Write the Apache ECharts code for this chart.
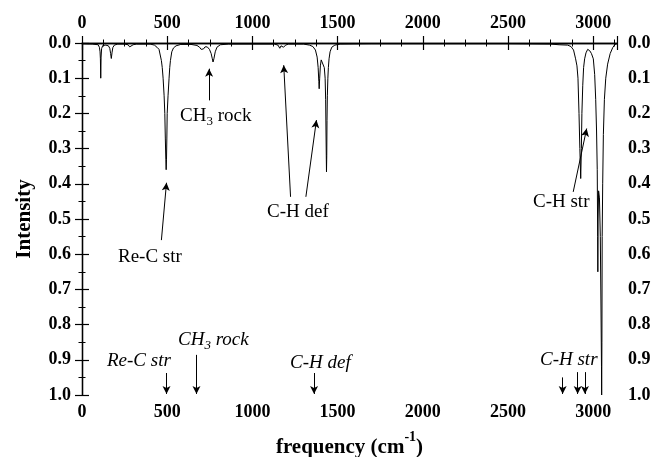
<!DOCTYPE html>
<html><head><meta charset="utf-8">
<script src="https://cdn.jsdelivr.net/npm/echarts@6/dist/echarts.min.js"></script>
<style>html,body{margin:0;padding:0;background:#fff}#c{width:653px;height:457px}</style>
</head><body><div id="c"></div>
<script>
// Simulated spectrum (frequency in cm-1, intensity)
const specFreq = [0,60,95,102,106,108,110,112,115,122,140,155,163,168,172,176,181,190,210,250,270,280,285,290,300,320,400,425,440,452,460,466,471,476,482,486,489,492,494,496,498,500,505,511,515,519,527,537,552,580,640,675,690,699,706,713,722,735,748,758,765,769,774,782,792,812,860,1000,1130,1150,1161,1168,1175,1183,1188,1195,1212,1300,1335,1355,1370,1380,1386,1390,1392,1395,1399,1404,1409,1415,1422,1427,1430,1432,1434,1435,1436.5,1438,1440,1443,1446,1450,1456,1466,1484,1515,1700,2000,2500,2750,2800,2850,2870,2885,2897,2905,2911,2917,2922,2927,2931,2934,2939,2944,2950,2958,2968,2980,2990,3001,3009,3015,3020,3024,3026.5,3027.5,3029,3032,3037,3042,3046,3049,3050,3051.5,3053,3056,3060,3066,3074,3085,3100,3115,3128,3140];
const specInt = [0.002,0.003,0.005,0.012,0.025,0.045,0.10,0.04,0.016,0.007,0.006,0.008,0.015,0.03,0.044,0.028,0.013,0.006,0.003,0.003,0.005,0.011,0.016,0.011,0.005,0.003,0.003,0.006,0.012,0.018,0.022,0.05,0.07,0.1,0.15,0.2,0.27,0.33,0.36,0.33,0.27,0.2,0.15,0.1,0.07,0.05,0.025,0.014,0.008,0.004,0.004,0.007,0.012,0.018,0.021,0.017,0.011,0.011,0.018,0.03,0.045,0.054,0.045,0.025,0.012,0.005,0.003,0.003,0.003,0.006,0.015,0.008,0.007,0.012,0.015,0.006,0.003,0.003,0.006,0.01,0.02,0.04,0.07,0.11,0.13,0.1,0.065,0.048,0.045,0.052,0.07,0.1,0.16,0.25,0.33,0.366,0.32,0.22,0.15,0.1,0.07,0.045,0.025,0.012,0.006,0.003,0.002,0.002,0.002,0.003,0.005,0.006,0.01,0.02,0.045,0.065,0.1,0.2,0.3,0.385,0.3,0.2,0.12,0.07,0.045,0.028,0.018,0.022,0.03,0.045,0.09,0.16,0.25,0.36,0.55,0.65,0.5,0.42,0.44,0.55,0.75,0.92,1.0,0.85,0.55,0.4,0.26,0.16,0.1,0.06,0.03,0.013,0.004,0.002];

// Experimental band positions (arrows on the bottom axis)
const stickFreq = [496, 672, 1362, 2821, 2909, 2952];
const stickTop  = [0.9375, 0.886, 0.9375, 0.95, 0.935, 0.935];

// Annotation arrows: [fromFreq, fromInt, toFreq, toInt]
const arrowFrom = [[746,0.163],[466,0.56],[1224,0.437],[1314,0.437],[2883,0.423]];
const arrowTo   = [[746,0.073],[496,0.397],[1184,0.063],[1376,0.219],[2962,0.243]];

const xTicks = [0,500,1000,1500,2000,2500,3000];
const yTicks = ['0.0','0.1','0.2','0.3','0.4','0.5','0.6','0.7','0.8','0.9','1.0'];

const FONT = 'Liberation Serif';
const chart = echarts.init(document.getElementById('c'), null, {renderer:'canvas'});

const axisLine = {show:true, lineStyle:{color:'#000', width:1.3}};
const tick = {show:true, inside:false, length:7, lineStyle:{color:'#000', width:1.2}};
const lab = {color:'#000', fontFamily:FONT, fontWeight:'bold', fontSize:18};

function xAx(pos, showName){
  return {
    type:'value', position:pos, min:0, max:3140, interval:500,
    axisLine, axisTick:tick,
    minorTick:{show:true, splitNumber:4, length:3.5, lineStyle:{color:'#000', width:1}},
    splitLine:{show:false}, minorSplitLine:{show:false},
    axisLabel:Object.assign({margin: pos==='top'?11:8, formatter:v=>xTicks.includes(v)?String(v):''}, lab),
    name: showName ? '{a|frequency (cm}{s|-1}{a|)}' : '',
    nameLocation:'middle', nameGap:35,
    nameTextStyle:{rich:{
      a:{fontFamily:FONT, fontWeight:'bold', fontSize:21, color:'#000', lineHeight:28, verticalAlign:'bottom'},
      s:{fontFamily:FONT, fontWeight:'bold', fontSize:14, color:'#000', lineHeight:28, verticalAlign:'top'}
    }}
  };
}
function yAx(pos, showName){
  return {
    type:'value', position:pos, inverse:true, min:0, max:1, interval:0.1,
    axisLine, axisTick:tick,
    minorTick:{show:true, splitNumber:2, length:3.5, lineStyle:{color:'#000', width:1}},
    splitLine:{show:false}, minorSplitLine:{show:false},
    axisLabel:Object.assign({margin:11, formatter:v=>yTicks[Math.round(v*10)]}, lab),
    name: showName ? 'Intensity' : '',
    nameLocation:'middle', nameGap:47,
    nameTextStyle:{fontFamily:FONT, fontWeight:'bold', fontSize:21, color:'#000'}
  };
}

const rich = {
  n:{fontFamily:FONT, fontSize:19, color:'#000', lineHeight:24, verticalAlign:'middle'},
  s:{fontFamily:FONT, fontSize:13, color:'#000', lineHeight:24, verticalAlign:'bottom'},
  i:{fontFamily:FONT, fontStyle:'italic', fontSize:19, color:'#000', lineHeight:24, verticalAlign:'middle'},
  is:{fontFamily:FONT, fontStyle:'italic', fontSize:13, color:'#000', lineHeight:24, verticalAlign:'bottom'}
};
function txt(t, x, y){
  return {type:'text', x:x, y:y, silent:true, style:{text:t, rich:rich, verticalAlign:'middle', align:'left', font:'19px '+FONT, fill:'#000'}};
}

const arrowLines = arrowFrom.map((f,i)=>[{coord:f},{coord:arrowTo[i]}])
  .concat(stickFreq.map((f,i)=>[{coord:[f,stickTop[i]]},{coord:[f,0.997]}]));

chart.setOption({
  animation:false,
  backgroundColor:'#fff',
  grid:{left:82, right:36, top:43, bottom:62, containLabel:false, outerBoundsMode:'none'},
  xAxis:[xAx('bottom', true), xAx('top', false)],
  yAxis:[yAx('left', true), yAx('right', false)],
  series:[{
    type:'line', xAxisIndex:0, yAxisIndex:0,
    data:specFreq.map((f,i)=>[f,specInt[i]]),
    showSymbol:false, symbol:'none', smooth:false,
    lineStyle:{color:'#000', width:1},
    silent:true,
    markLine:{
      silent:true, symbol:['none','arrow'], symbolSize:[6,8],
      label:{show:false},
      lineStyle:{color:'#000', width:1, type:'solid'},
      data:arrowLines
    }
  }],
  graphic:[
    txt('{n|CH}{s|3}{n| rock}', 180, 116),
    txt('{n|Re-C str}', 118, 257),
    txt('{n|C-H def}', 267, 212),
    txt('{n|C-H str}', 533, 202),
    txt('{i|Re-C str}', 107, 361),
    txt('{i|CH}{is|3}{i| rock}', 178, 340),
    txt('{i|C-H def}', 290, 363),
    txt('{i|C-H str}', 540, 360)
  ]
});
</script></body></html>
